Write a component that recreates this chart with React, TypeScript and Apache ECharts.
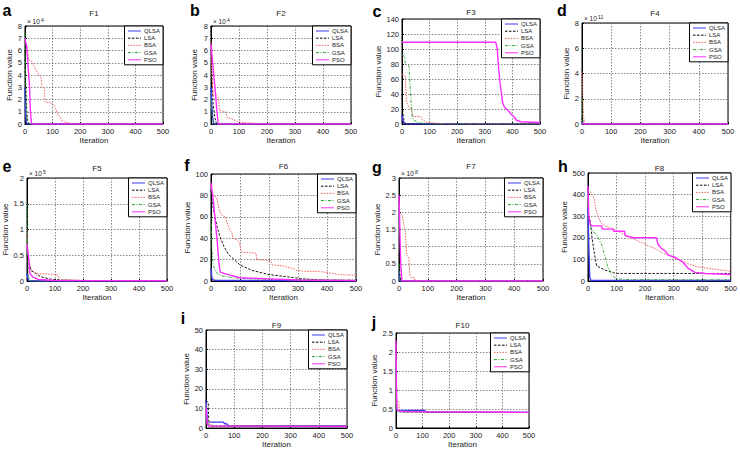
import React, { useEffect, useRef } from 'react';
import * as echarts from 'echarts';

const NAMES = ['QLSA', 'LSA', 'BSA', 'GSA', 'PSO'];
const TITLES = ['F1', 'F2', 'F3', 'F4', 'F5', 'F6', 'F7', 'F8', 'F9', 'F10'];
const LETTERS = ['a', 'b', 'c', 'd', 'e', 'f', 'g', 'h', 'i', 'j'];
const X_LABEL = 'Iteration';
const Y_LABEL = 'Function value';

// F1 (values)
const F1_QLSA = [[0, 30000], [2, 10000], [5, 1000], [8, 0], [500, 0]];
const F1_LSA = [[0, 60000], [2, 35000], [5, 15000], [9, 3000], [14, 0], [500, 0]];
const F1_BSA = [[0, 68000], [5, 65000], [10, 60000], [13, 52000], [25, 51000], [35, 46000], [50, 40000], [58, 38000], [62, 30000], [70, 29500], [73, 18000], [98, 17000], [106, 15000], [112, 12000], [120, 7000], [127, 6000], [132, 3000], [150, 1200], [170, 500], [200, 0], [500, 0]];
const F1_GSA = [[0, 74000], [2, 40000], [4, 15000], [8, 2000], [12, 0], [500, 0]];
const F1_PSO = [[0, 70000], [6, 63000], [11, 48000], [16, 32000], [20, 9000], [24, 0], [500, 0]];

// F2
const F2_QLSA = [[0, 30000], [3, 15000], [6, 5000], [10, 0], [500, 0]];
const F2_LSA = [[0, 80000], [3, 40000], [8, 15000], [14, 5000], [20, 0], [500, 0]];
const F2_BSA = [[0, 67000], [3, 40000], [8, 23000], [20, 23000], [27, 21000], [30, 11000], [52, 10000], [58, 5000], [75, 4000], [95, 2000], [125, 1000], [160, 500], [200, 200], [250, 0], [500, 0]];
const F2_GSA = [[0, 20000], [4, 8000], [8, 2000], [12, 0], [500, 0]];
const F2_PSO = [[0, 65000], [8, 45000], [16, 25000], [22, 8000], [26, 0], [500, 0]];

// F3
const F3_QLSA = [[0, 12], [3, 5], [8, 1], [15, 0], [500, 0]];
const F3_LSA = [[0, 40], [3, 15], [8, 3], [15, 0], [500, 0]];
const F3_BSA = [[0, 66], [12, 64], [16, 30], [22, 25], [30, 20], [36, 18], [40, 10], [66, 10], [75, 5], [90, 2], [130, 1], [170, 0], [500, 0]];
const F3_GSA = [[0, 92], [10, 90], [12, 80], [25, 78], [30, 47], [36, 12], [42, 5], [60, 2], [90, 0], [500, 0]];
const F3_PSO = [[0, 109], [340, 109], [345, 100], [350, 75], [355, 55], [360, 42], [365, 28], [372, 22], [385, 18], [395, 13], [405, 10], [415, 5], [430, 3], [500, 2]];

// F4
const F4_QLSA = [[0, 0.2e11], [2, 0], [500, 0]];
const F4_LSA = [[0, 0.5e11], [3, 0], [500, 0]];
const F4_BSA = [[0, 4.1e11], [3, 2e11], [6, 0.5e11], [10, 0], [500, 0]];
const F4_GSA = [[0, 2e11], [2, 0.5e11], [5, 0], [500, 0]];
const F4_PSO = [[0, 0.1e11], [5, 0], [500, 0]];

// F5
const F5_QLSA = [[0, 0.15e5], [5, 0.02e5], [10, 0], [500, 0]];
const F5_LSA = [[0, 0.5e5], [5, 0.4e5], [15, 0.2e5], [30, 0.15e5], [50, 0.08e5], [80, 0.04e5], [120, 0.02e5], [200, 0.01e5], [500, 0]];
const F5_BSA = [[0, 1.0e5], [3, 0.6e5], [8, 0.35e5], [15, 0.22e5], [25, 0.18e5], [35, 0.14e5], [60, 0.14e5], [110, 0.12e5], [115, 0.03e5], [200, 0.01e5], [500, 0]];
const F5_GSA = [[0, 1.5e5], [2, 0.5e5], [5, 0.1e5], [10, 0], [500, 0]];
const F5_PSO = [[0, 0.7e5], [5, 0.5e5], [10, 0.15e5], [20, 0.08e5], [40, 0.03e5], [100, 0.01e5], [500, 0.005e5]];

// F6
const F6_QLSA = [[0, 12], [3, 3], [8, 1], [20, 0.5], [500, 0.2]];
const F6_LSA = [[0, 85], [5, 72], [12, 62], [20, 52], [30, 42], [45, 32], [60, 25], [80, 20], [100, 15], [140, 10], [200, 6], [260, 4], [320, 2], [380, 1], [450, 0.5], [500, 0.3]];
const F6_BSA = [[0, 88], [6, 80], [20, 78], [24, 72], [30, 65], [36, 62], [50, 60], [54, 55], [60, 52], [64, 48], [72, 45], [76, 40], [92, 38], [98, 36], [102, 30], [106, 27], [155, 26], [158, 20], [205, 19], [212, 15], [250, 14], [260, 13], [280, 12], [295, 10], [320, 9], [370, 9], [400, 8], [440, 6], [480, 5.5], [500, 5.5]];
const F6_GSA = [[0, 60], [3, 30], [8, 14], [15, 10], [25, 6], [50, 4], [100, 2.5], [200, 1.5], [500, 1]];
const F6_PSO = [[0, 92], [8, 75], [15, 55], [22, 35], [28, 15], [32, 8], [60, 6], [100, 3], [200, 2], [300, 1], [500, 0.5]];

// F7
const F7_QLSA = [[0, 0.3e8], [2, 0.05e8], [4, 0], [500, 0]];
const F7_LSA = [[0, 0.8e8], [3, 0.2e8], [6, 0], [500, 0]];
const F7_BSA = [[0, 2e8], [8, 1.95e8], [12, 1.9e8], [18, 1.6e8], [22, 1.4e8], [27, 0.75e8], [34, 0.7e8], [38, 0.15e8], [42, 0.1e8], [53, 0.1e8], [56, 0], [500, 0]];
const F7_GSA = [[0, 0.5e8], [2, 0.1e8], [5, 0], [500, 0]];
const F7_PSO = [[0, 2.5e8], [3, 1.5e8], [6, 0.5e8], [10, 0], [500, 0]];

// F8
const F8_QLSA = [[0, 340], [3, 150], [6, 20], [10, 2], [500, 2]];
const F8_LSA = [[0, 300], [8, 280], [14, 200], [22, 130], [30, 70], [45, 60], [60, 50], [75, 45], [90, 38], [100, 35], [500, 35]];
const F8_BSA = [[0, 420], [10, 410], [20, 390], [28, 330], [35, 300], [45, 270], [60, 255], [90, 240], [120, 220], [175, 185], [235, 150], [260, 130], [290, 115], [330, 90], [350, 80], [385, 65], [410, 60], [460, 52], [500, 45]];
const F8_GSA = [[0, 320], [10, 250], [18, 230], [30, 215], [40, 190], [50, 160], [60, 110], [68, 70], [78, 40], [90, 20], [100, 10], [150, 6], [500, 5]];
const F8_PSO = [[0, 440], [3, 300], [8, 260], [15, 255], [48, 255], [50, 240], [88, 240], [90, 230], [128, 230], [130, 210], [160, 200], [240, 200], [245, 170], [258, 150], [270, 140], [281, 120], [305, 110], [330, 90], [350, 60], [375, 40], [410, 35], [500, 30]];

// F9
const F9_QLSA = [[0, 14], [3, 8], [5, 3], [62, 3], [65, 2.3], [75, 2], [80, 1], [500, 1]];
const F9_LSA = [[0, 14], [8, 13], [10, 2], [15, 1], [500, 1]];
const F9_BSA = [[0, 12], [3, 5], [10, 3], [18, 3], [22, 1], [500, 1]];
const F9_GSA = [[0, 6], [3, 2], [8, 1], [500, 1]];
const F9_PSO = [[0, 10], [2, 5], [5, 2], [10, 1], [500, 0.8]];

// F10
const F10_QLSA = [[0, 0.5], [3, 0.47], [108, 0.46], [112, 0.42], [500, 0.41]];
const F10_LSA = [[0, 0.6], [3, 0.45], [20, 0.42], [500, 0.41]];
const F10_BSA = [[0, 0.75], [10, 0.7], [13, 0.45], [30, 0.43], [500, 0.41]];
const F10_GSA = [[0, 0.8], [3, 0.5], [10, 0.43], [500, 0.41]];
const F10_PSO = [[0, 2.3], [2, 1.0], [4, 0.48], [20, 0.43], [500, 0.41]];

const DATA = [
  [F1_QLSA, F1_LSA, F1_BSA, F1_GSA, F1_PSO],
  [F2_QLSA, F2_LSA, F2_BSA, F2_GSA, F2_PSO],
  [F3_QLSA, F3_LSA, F3_BSA, F3_GSA, F3_PSO],
  [F4_QLSA, F4_LSA, F4_BSA, F4_GSA, F4_PSO],
  [F5_QLSA, F5_LSA, F5_BSA, F5_GSA, F5_PSO],
  [F6_QLSA, F6_LSA, F6_BSA, F6_GSA, F6_PSO],
  [F7_QLSA, F7_LSA, F7_BSA, F7_GSA, F7_PSO],
  [F8_QLSA, F8_LSA, F8_BSA, F8_GSA, F8_PSO],
  [F9_QLSA, F9_LSA, F9_BSA, F9_GSA, F9_PSO],
  [F10_QLSA, F10_LSA, F10_BSA, F10_GSA, F10_PSO],
];

// y axis ranges: max, interval, scale factor, exponent label
const Y_MAX = [8e4, 8e4, 140, 8e11, 2e5, 100, 3e8, 500, 50, 2.5];
const Y_INT = [1e4, 1e4, 20, 2e11, 0.5e5, 20, 0.5e8, 100, 10, 0.5];
const Y_SCALE = [1e4, 1e4, 1, 1e11, 1e5, 1, 1e8, 1, 1, 1];
const Y_EXP = ['4', '4', '', '11', '5', '', '8', '', '', ''];

// layout
const LAYOUT = [
  { left: 25, top: 26, w: 138, h: 98, lx: 7, ly: 10, ty: 13, ng: 12 },
  { left: 211, top: 26, w: 140, h: 98, lx: 195, ly: 10, ty: 13, ng: 13 },
  { left: 402, top: 19, w: 138, h: 105, lx: 377, ly: 11, ty: 12, ng: 20 },
  { left: 582, top: 23, w: 146, h: 101, lx: 562, ly: 10, ty: 13, ng: 10 },
  { left: 27, top: 178, w: 140, h: 103, lx: 7, ly: 166, ty: 168, ng: 17 },
  { left: 211, top: 174, w: 145, h: 107, lx: 187, ly: 165, ty: 166, ng: 19 },
  { left: 399, top: 178, w: 144, h: 103, lx: 377, ly: 167, ty: 166, ng: 17 },
  { left: 588, top: 173, w: 143, h: 108, lx: 563, ly: 166, ty: 168, ng: 20 },
  { left: 206, top: 330, w: 141, h: 102, lx: 183, ly: 318, ty: 325, ng: 16 },
  { left: 396, top: 333, w: 133, h: 100, lx: 374, ly: 322, ty: 325, ng: 17 },
];

const FONT = '"Liberation Sans", Arial, Helvetica, sans-serif';

const STYLES = [
  { color: '#3b3bf5', width: 1.4, type: 'solid' as any },
  { color: '#000000', width: 0.9, type: [2.5, 1.5] as any },
  { color: '#f06a6a', width: 1, type: [1.6, 1.2] as any },
  { color: '#23a02a', width: 0.9, type: [3, 1.5, 1, 1.5] as any },
  { color: '#ff2cff', width: 1.4, type: 'solid' as any },
];

function buildOption() {
  const grid: any[] = [];
  const xAxis: any[] = [];
  const yAxis: any[] = [];
  const series: any[] = [];
  const legend: any[] = [];
  const graphic: any[] = [];

  LAYOUT.forEach((L, i) => {
    grid.push({
      left: L.left, top: L.top, width: L.w, height: L.h,
      show: true, borderColor: '#000', borderWidth: 1, backgroundColor: 'transparent',
      containLabel: false,
    });
    xAxis.push({
      type: 'value', gridIndex: i, min: 0, max: 500, interval: 100,
      name: X_LABEL, nameLocation: 'middle', nameGap: 12,
      nameTextStyle: { fontSize: 8, fontFamily: FONT, color: '#222' },
      axisLine: { show: true, lineStyle: { color: '#000', width: 1 } },
      axisTick: { show: true, inside: true, length: 2, lineStyle: { color: '#000' } },
      axisLabel: { fontSize: 7.5, fontFamily: FONT, color: '#222', margin: 3 },
      splitLine: { show: true, lineStyle: { color: '#555', width: 0.7, type: [1.5, 1.5] } },
    });
    const sc = Y_SCALE[i];
    yAxis.push({
      type: 'value', gridIndex: i, min: 0, max: Y_MAX[i], interval: Y_INT[i],
      name: Y_LABEL, nameLocation: 'middle', nameGap: L.ng,
      nameTextStyle: { fontSize: 8, fontFamily: FONT, color: '#222' },
      axisLine: { show: true, lineStyle: { color: '#000', width: 1 } },
      axisTick: { show: true, inside: true, length: 2, lineStyle: { color: '#000' } },
      axisLabel: {
        fontSize: 7.5, fontFamily: FONT, color: '#222', margin: 3,
        formatter: (v: number) => String(+(v / sc).toFixed(2)),
      },
      splitLine: { show: true, lineStyle: { color: '#555', width: 0.7, type: [1.5, 1.5] } },
    });
    NAMES.forEach((nm, k) => {
      const st = STYLES[k];
      series.push({
        type: 'line', name: nm, xAxisIndex: i, yAxisIndex: i,
        data: DATA[i][k], showSymbol: false, symbol: 'none',
        color: st.color,
        lineStyle: { color: st.color, width: st.width, type: st.type },
        silent: true, emphasis: { disabled: true }, z: 2 + k,
        clip: true,
      });
    });
    legend.push({
      orient: 'vertical', right: 740 - (L.left + L.w), top: L.top,
      data: NAMES, itemWidth: 13, itemHeight: 6, itemGap: 1.2,
      padding: [2, 3, 2, 3], borderColor: '#000', borderWidth: 1,
      backgroundColor: '#fff', selectedMode: false, z: 10,
      itemStyle: { opacity: 0, borderWidth: 0 },
      lineStyle: { width: 1 },
      textStyle: { fontSize: 6, fontFamily: FONT, color: '#222', padding: [0, 0, 0, -2] },
    });
    graphic.push({
      type: 'text', x: L.left + L.w / 2, y: L.ty, z: 20,
      style: { text: TITLES[i], fontSize: 8, fontFamily: FONT, fill: '#222', align: 'center', verticalAlign: 'middle' },
    });
    graphic.push({
      type: 'text', x: L.lx, y: L.ly, z: 20,
      style: { text: LETTERS[i], fontSize: 16, fontWeight: 'bold', fontFamily: FONT, fill: '#000', align: 'center', verticalAlign: 'middle' },
    });
    if (Y_EXP[i]) {
      graphic.push({
        type: 'text', x: L.left + 2, y: L.top - 1, z: 20,
        style: { text: '× 10', fontSize: 6.5, fontFamily: FONT, fill: '#222', verticalAlign: 'bottom' },
      });
      graphic.push({
        type: 'text', x: L.left + 16, y: L.top - 4, z: 20,
        style: { text: Y_EXP[i], fontSize: 5, fontFamily: FONT, fill: '#222', verticalAlign: 'bottom' },
      });
    }
  });

  return {
    animation: false,
    backgroundColor: '#fff',
    grid, xAxis, yAxis, series, legend, graphic,
  };
}

export default function App() {
  const ref = useRef<HTMLDivElement>(null);
  useEffect(() => {
    if (!ref.current) return;
    const chart = echarts.init(ref.current, undefined, { renderer: 'svg' });
    chart.setOption(buildOption() as any);
    return () => chart.dispose();
  }, []);
  return (
    <div
      ref={ref}
      style={{ position: 'fixed', left: 0, top: 0, width: 740, height: 449, background: '#fff' }}
    />
  );
}
